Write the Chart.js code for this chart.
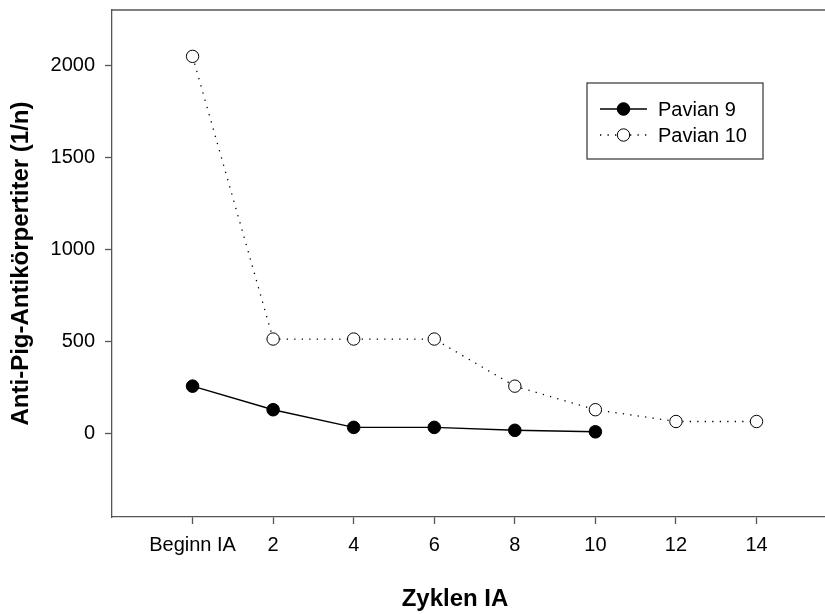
<!DOCTYPE html>
<html>
<head>
<meta charset="utf-8">
<script src="https://cdn.jsdelivr.net/npm/chart.js@4/dist/chart.umd.min.js"></script>
<style>
  html, body { margin: 0; padding: 0; background: #fff; overflow: hidden; }
</style>
</head>
<body>
<canvas id="chartCanvas" width="825" height="614"></canvas>
<script>
// titre per cycle of immunoadsorption
const cycles = [0, 2, 4, 6, 8, 10, 12, 14];
const pavian9 = [256, 128, 32, 32, 16, 8];
const pavian10 = [2048, 512, 512, 512, 256, 128, 64, 64];
const seriesLabels = ["Pavian 9", "Pavian 10"];

const xTickValues = [0, 2, 4, 6, 8, 10, 12, 14];
const xTickLabels = ["Beginn IA", "2", "4", "6", "8", "10", "12", "14"];
const yTickValues = [0, 500, 1000, 1500, 2000];

const xTitle = "Zyklen IA";
const yTitle = "Anti-Pig-Antikörpertiter (1/n)";

const FONT = "'Liberation Sans', Arial, Helvetica, sans-serif";
const AXIS_COLOR = "#555";

function toPoints(values) {
  return values.map((v, i) => ({ x: cycles[i], y: v }));
}

// top frame line, x title and the boxed legend inside the plot
const extrasPlugin = {
  id: "extras",
  afterDraw(chart) {
    const ctx = chart.ctx;
    const area = chart.chartArea;
    ctx.save();

    ctx.strokeStyle = AXIS_COLOR;
    ctx.lineWidth = 1.3;
    ctx.beginPath();
    ctx.moveTo(area.left, area.top);
    ctx.lineTo(area.right, area.top);
    ctx.stroke();

    ctx.fillStyle = "#000";
    ctx.font = "bold 24px " + FONT;
    ctx.textAlign = "center";
    ctx.textBaseline = "alphabetic";
    ctx.fillText(xTitle, 455, 606);

    // legend
    const box = { x: 587, y: 83, w: 176, h: 76 };
    ctx.strokeStyle = "#333";
    ctx.lineWidth = 1.2;
    ctx.strokeRect(box.x, box.y, box.w, box.h);

    ctx.font = "20px " + FONT;
    ctx.textAlign = "left";
    ctx.textBaseline = "middle";
    chart.data.datasets.forEach((ds, i) => {
      const y = 109 + i * 26;
      ctx.strokeStyle = ds.borderColor;
      ctx.lineWidth = ds.borderWidth;
      ctx.setLineDash(ds.borderDash || []);
      ctx.beginPath();
      ctx.moveTo(600, y);
      ctx.lineTo(647, y);
      ctx.stroke();
      ctx.setLineDash([]);

      ctx.fillStyle = ds.pointBackgroundColor;
      ctx.strokeStyle = ds.pointBorderColor;
      ctx.lineWidth = ds.pointBorderWidth;
      ctx.beginPath();
      ctx.arc(623.5, y, ds.pointRadius, 0, Math.PI * 2);
      ctx.fill();
      ctx.stroke();

      ctx.fillStyle = "#000";
      ctx.fillText(ds.label, 658, y + 1);
    });

    ctx.restore();
  },
};

const ctx = document.getElementById("chartCanvas").getContext("2d");

window.myChart = new Chart(ctx, {
  type: "line",
  data: {
    datasets: [
      {
        label: seriesLabels[0],
        data: toPoints(pavian9),
        borderColor: "#000",
        borderWidth: 1.4,
        pointBackgroundColor: "#000",
        pointBorderColor: "#000",
        pointBorderWidth: 1,
        pointRadius: 6.3,
        tension: 0,
      },
      {
        label: seriesLabels[1],
        data: toPoints(pavian10),
        borderColor: "#000",
        borderWidth: 1.3,
        borderDash: [1.3, 6.2],
        pointBackgroundColor: "#fff",
        pointBorderColor: "#000",
        pointBorderWidth: 1,
        pointRadius: 6.2,
        tension: 0,
      },
    ],
  },
  options: {
    responsive: false,
    animation: false,
    devicePixelRatio: 1,
    layout: {
      autoPadding: false,
      padding: { top: 10, right: 0, bottom: 0, left: 0 },
    },
    plugins: {
      legend: { display: false },
      tooltip: { enabled: false },
    },
    scales: {
      x: {
        type: "linear",
        min: -2,
        max: 15.7,
        afterBuildTicks: (scale) => {
          scale.ticks = xTickValues.map((v) => ({ value: v }));
        },
        afterFit: (scale) => {
          scale.height = 97;
          scale.paddingLeft = 0;
          scale.paddingRight = 0;
        },
        ticks: {
          autoSkip: false,
          maxRotation: 0,
          padding: 9,
          color: "#000",
          font: { family: FONT, size: 20 },
          callback: (value, index) => xTickLabels[index],
        },
        grid: {
          drawOnChartArea: false,
          drawTicks: true,
          tickLength: 7,
          tickColor: AXIS_COLOR,
          tickWidth: 1.3,
        },
        border: { display: true, color: AXIS_COLOR, width: 1.3 },
      },
      y: {
        min: -455,
        max: 2300,
        afterBuildTicks: (scale) => {
          scale.ticks = yTickValues.map((v) => ({ value: v }));
        },
        afterFit: (scale) => {
          scale.width = 112;
          scale.paddingTop = 0;
          scale.paddingBottom = 0;
        },
        ticks: {
          padding: 10,
          color: "#000",
          font: { family: FONT, size: 20 },
          callback: (value) => String(value),
        },
        grid: {
          drawOnChartArea: false,
          drawTicks: true,
          tickLength: 7,
          tickColor: AXIS_COLOR,
          tickWidth: 1.3,
        },
        border: { display: true, color: AXIS_COLOR, width: 1.3 },
        title: {
          display: true,
          text: yTitle,
          color: "#000",
          font: { family: FONT, size: 24, weight: "bold" },
          padding: { top: 7, bottom: 0 },
        },
      },
    },
  },
  plugins: [extrasPlugin],
});
</script>
</body>
</html>
